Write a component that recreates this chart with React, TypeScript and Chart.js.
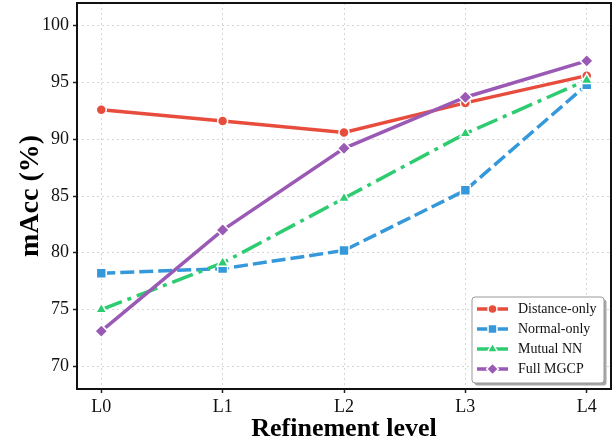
import React, { useEffect, useRef } from "react";
import { Chart, registerables } from "chart.js";

Chart.register(...registerables);

const categories = ["L0", "L1", "L2", "L3", "L4"];
const seriesNames = ["Distance-only", "Normal-only", "Mutual NN", "Full MGCP"];
const distanceOnly = [92.6, 91.6, 90.6, 93.2, 95.6];
const normalOnly = [78.2, 78.6, 80.2, 85.5, 94.8];
const mutualNN = [75.0, 79.1, 84.8, 90.5, 95.2];
const fullMGCP = [73.1, 82.0, 89.2, 93.7, 96.9];
const yTicks = [70, 75, 80, 85, 90, 95, 100];

const SERIF = '"Liberation Serif", "Times New Roman", "DejaVu Serif", serif';

const colors = ["#e74c3c", "#3498db", "#2ecc71", "#9b59b6"];
const styles = ["circle", "rect", "triangle", "rectRot"];
const radii = [5, 7, 6.5, 6.5];
const dashes: number[][] = [[], [14, 5], [22, 6, 4, 6], []];
const seriesValues = [distanceOnly, normalOnly, mutualNN, fullMGCP];

function drawMarker(ctx: CanvasRenderingContext2D, style: string, x: number, y: number, r: number) {
  ctx.beginPath();
  if (style === "circle") {
    ctx.arc(x, y, r, 0, Math.PI * 2);
  } else if (style === "rect") {
    const s = r * Math.SQRT1_2;
    ctx.rect(x - s, y - s, 2 * s, 2 * s);
  } else if (style === "triangle") {
    ctx.moveTo(x, y - r);
    ctx.lineTo(x + r * Math.sin(Math.PI / 3), y + r / 2);
    ctx.lineTo(x - r * Math.sin(Math.PI / 3), y + r / 2);
    ctx.closePath();
  } else {
    ctx.moveTo(x - r, y);
    ctx.lineTo(x, y - r);
    ctx.lineTo(x + r, y);
    ctx.lineTo(x, y + r);
    ctx.closePath();
  }
  ctx.fill();
  ctx.stroke();
}

const framePlugin = {
  id: "frame",
  afterDatasetsDraw(chart: any) {
    const { ctx, chartArea } = chart;
    ctx.save();
    ctx.strokeStyle = "#111";
    ctx.lineWidth = 2;
    ctx.strokeRect(chartArea.left, chartArea.top, chartArea.right - chartArea.left, chartArea.bottom - chartArea.top);
    ctx.restore();
  },
};

function roundRectPath(ctx: CanvasRenderingContext2D, x: number, y: number, w: number, h: number, r: number) {
  ctx.beginPath();
  ctx.moveTo(x + r, y);
  ctx.lineTo(x + w - r, y);
  ctx.quadraticCurveTo(x + w, y, x + w, y + r);
  ctx.lineTo(x + w, y + h - r);
  ctx.quadraticCurveTo(x + w, y + h, x + w - r, y + h);
  ctx.lineTo(x + r, y + h);
  ctx.quadraticCurveTo(x, y + h, x, y + h - r);
  ctx.lineTo(x, y + r);
  ctx.quadraticCurveTo(x, y, x + r, y);
  ctx.closePath();
}

const legendPlugin = {
  id: "customLegend",
  afterDraw(chart: any) {
    const { ctx, chartArea } = chart;
    const w = 132;
    const h = 86;
    const x0 = chartArea.right - 7 - w;
    const y0 = chartArea.bottom - 6 - h;
    ctx.save();
    ctx.fillStyle = "rgba(0,0,0,0.35)";
    roundRectPath(ctx, x0 + 2.5, y0 + 2.5, w, h, 3);
    ctx.fill();
    ctx.fillStyle = "#ffffff";
    roundRectPath(ctx, x0, y0, w, h, 3);
    ctx.fill();
    ctx.strokeStyle = "#999";
    ctx.lineWidth = 1;
    ctx.stroke();
    chart.data.datasets.forEach((ds: any, i: number) => {
      const cy = y0 + 12 + i * 20;
      ctx.setLineDash([]);
      ctx.strokeStyle = ds.borderColor;
      ctx.lineWidth = 3.5;
      ctx.beginPath();
      ctx.moveTo(x0 + 5, cy);
      ctx.lineTo(x0 + 36, cy);
      ctx.stroke();
      ctx.fillStyle = ds.borderColor;
      ctx.strokeStyle = "#ffffff";
      ctx.lineWidth = 1.5;
      drawMarker(ctx, ds.pointStyle, x0 + 20.5, cy, ds.pointRadius * 0.9);
      ctx.fillStyle = "#111";
      ctx.font = `14px ${SERIF}`;
      ctx.textBaseline = "middle";
      ctx.textAlign = "left";
      ctx.fillText(ds.label, x0 + 46, cy + 0.5);
    });
    ctx.restore();
  },
};

function zeroPad(s: any) {
  s.paddingTop = 0;
  s.paddingBottom = 0;
  s.paddingLeft = 0;
  s.paddingRight = 0;
}

export default function App() {
  const ref = useRef<HTMLCanvasElement | null>(null);
  useEffect(() => {
    if (!ref.current) return;
    const datasets = seriesNames.map((name, i) => ({
      label: name,
      data: seriesValues[i].map((v, j) => ({ x: j, y: v })),
      borderColor: colors[i],
      backgroundColor: colors[i],
      borderWidth: 3.5,
      borderDash: dashes[i],
      pointStyle: styles[i],
      pointRadius: radii[i],
      pointHoverRadius: radii[i],
      pointBackgroundColor: colors[i],
      pointBorderColor: "#ffffff",
      pointBorderWidth: 1.5,
      tension: 0,
      order: 4 - i,
      clip: false as any,
    }));
    const chart = new Chart(ref.current, {
      type: "line",
      data: { datasets },
      options: {
        animation: false,
        responsive: false,
        events: [],
        layout: { autoPadding: false, padding: { top: 3, right: 2, left: 0, bottom: 0 } },
        plugins: { legend: { display: false }, tooltip: { enabled: false } },
        scales: {
          x: {
            type: "linear",
            min: -0.2,
            max: 4.2,
            afterBuildTicks: (s: any) => {
              s.ticks = categories.map((_, i) => ({ value: i }));
            },
            afterFit: (s: any) => {
              s.height = 53;
              zeroPad(s);
            },
            ticks: {
              autoSkip: false,
              maxRotation: 0,
              color: "#111",
              font: { family: SERIF, size: 18 },
              padding: 3,
              callback: (v: any) => categories[Math.round(Number(v))],
            },
            grid: {
              color: "rgba(0,0,0,0.16)",
              lineWidth: 1,
              tickColor: "#222",
              tickLength: 4,
              tickWidth: 1.5,
            },
            border: { display: false, dash: [2, 3] },
            title: {
              display: true,
              text: "Refinement level",
              color: "#000",
              font: { family: SERIF, size: 26, weight: "bold" },
              padding: { top: 0, bottom: -3 },
            },
          },
          y: {
            type: "linear",
            min: 68,
            max: 102,
            afterBuildTicks: (s: any) => {
              s.ticks = yTicks.map((v) => ({ value: v }));
            },
            afterFit: (s: any) => {
              s.width = 77;
              zeroPad(s);
            },
            ticks: {
              color: "#111",
              font: { family: SERIF, size: 18 },
              padding: 4,
            },
            grid: {
              color: "rgba(0,0,0,0.16)",
              lineWidth: 1,
              tickColor: "#222",
              tickLength: 4,
              tickWidth: 1.5,
            },
            border: { display: false, dash: [2, 3] },
            title: {
              display: true,
              text: "mAcc (%)",
              color: "#000",
              font: { family: SERIF, size: 28, weight: "bold" },
              padding: { top: 14, bottom: 0 },
            },
          },
        },
      },
      plugins: [framePlugin, legendPlugin],
    } as any);
    return () => chart.destroy();
  }, []);
  return (
    <div style={{ position: "absolute", left: 0, top: 0, width: 613, height: 442, background: "#fff" }}>
      <canvas ref={ref} width={613} height={442} style={{ display: "block" }} />
    </div>
  );
}
